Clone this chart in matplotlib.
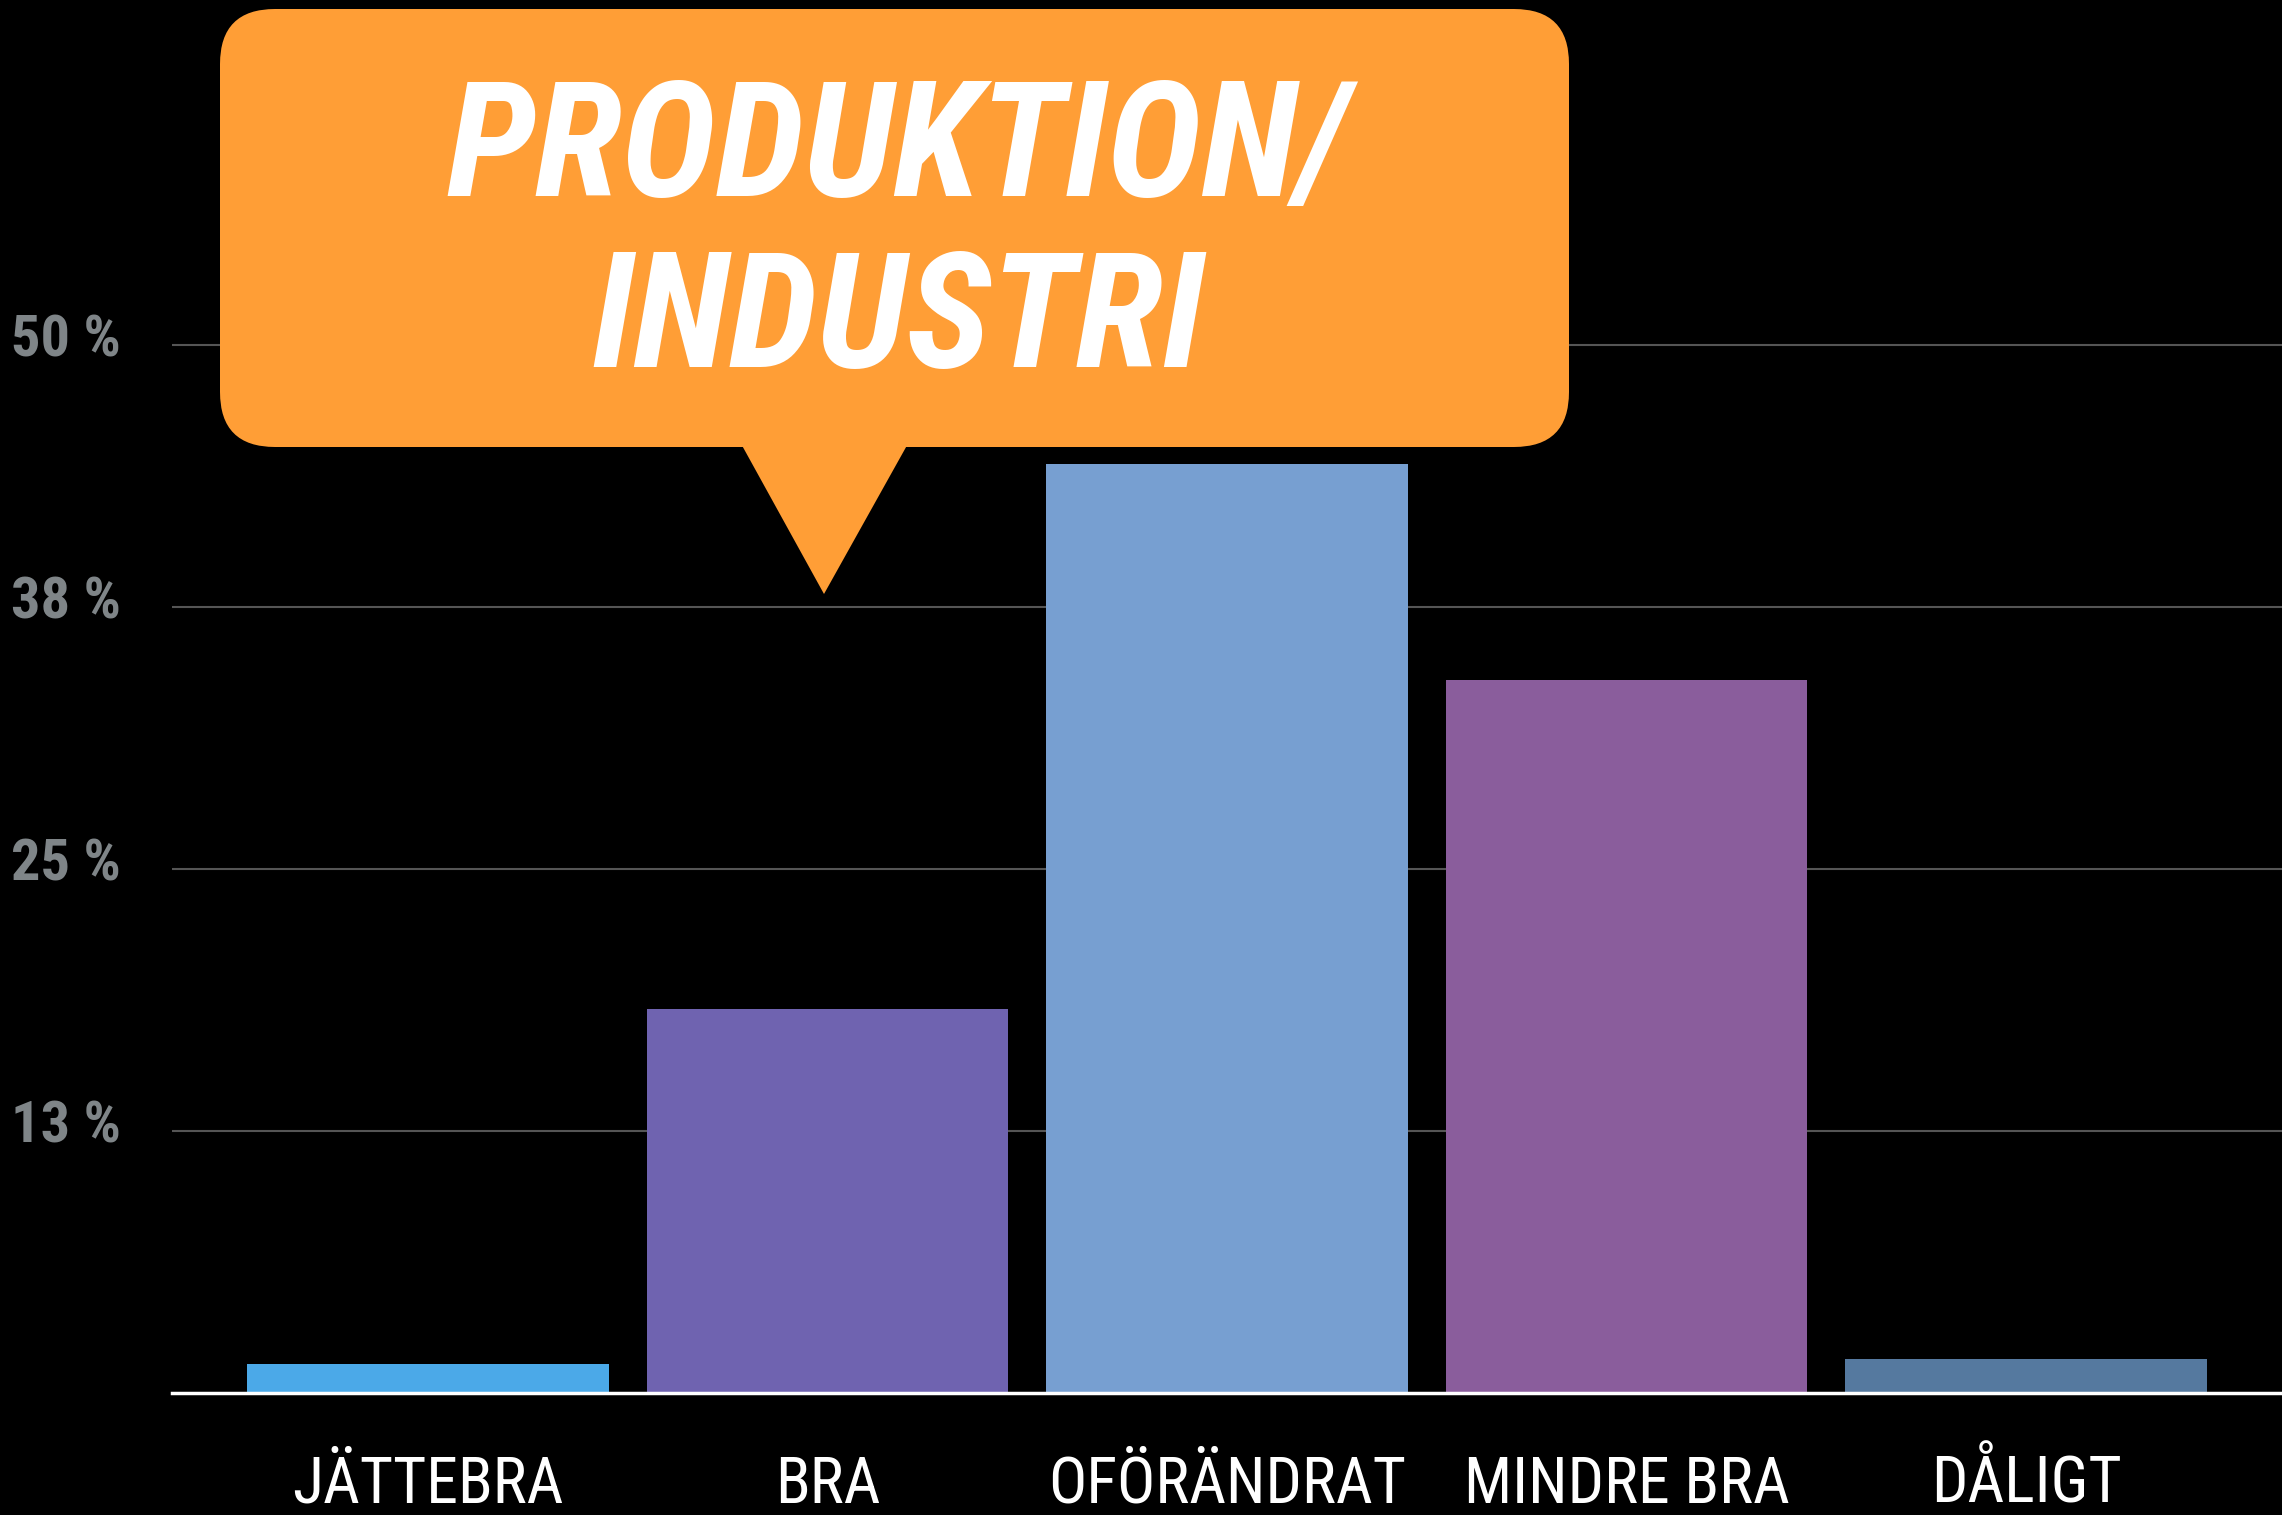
import matplotlib
matplotlib.use('Agg')
import matplotlib.pyplot as plt
import matplotlib.transforms as mtransforms
from matplotlib import font_manager
from matplotlib.patches import FancyBboxPatch, Polygon

# values (percent of answers)
categories = ['JÄTTEBRA', 'BRA', 'OFÖRÄNDRAT', 'MINDRE BRA', 'DÅLIGT']
shares = [1.4, 18.3, 44.3, 34.0, 1.6]
bar_colors = ['#4ba9e8', '#6f63b0', '#779fd1', '#8a5d9c', '#55799f']
y_ticks = [12.5, 25, 37.5, 50]
y_tick_labels = ['13 %', '25 %', '38 %', '50 %']
title_lines = ['PRODUKTION/', 'INDUSTRI']

installed = {f.name for f in font_manager.fontManager.ttflist}


def pick_font(*names):
    for name in names:
        if name in installed:
            return name
    return 'DejaVu Sans'


narrow = pick_font('Liberation Sans Narrow', 'Roboto Condensed', 'DejaVu Sans Condensed', 'Liberation Sans')

W, H = 2282, 1515
base_px = 1393          # pixel row of the zero line
px_per_pct = (1393 - 345) / 50.0

fig = plt.figure(figsize=(W / 100, H / 100), dpi=100, facecolor='black')
ax = fig.add_axes([172 / W, (H - base_px) / H, 1 - 172 / W, base_px / H])
ax.set_facecolor('black')

ax.bar(range(len(categories)), shares, width=0.905, color=bar_colors, zorder=3)
ax.set_xlim(-0.64, len(categories) - 0.36)
ax.set_ylim(0, base_px / px_per_pct)

ax.set_yticks(y_ticks, y_tick_labels)
ax.yaxis.grid(True, color='#555555', linewidth=1.5)
ax.set_axisbelow(True)
ax.tick_params(axis='y', length=0, pad=37, labelcolor='#7f8588', labelsize=42)
lift = mtransforms.ScaledTranslation(0, 10 / 100, fig.dpi_scale_trans)
for lbl in ax.get_yticklabels():
    lbl.set_family(narrow)
    lbl.set_fontweight('bold')
    lbl.set_transform(lbl.get_transform() + lift)

ax.set_xticks(range(len(categories)), categories)
ax.tick_params(axis='x', length=0, pad=79, labelcolor='white', labelsize=46)
for lbl in ax.get_xticklabels():
    lbl.set_family(narrow)
    lbl.set_verticalalignment('baseline')

for side in ['top', 'right', 'left']:
    ax.spines[side].set_visible(False)
ax.spines['bottom'].set_color('white')
ax.spines['bottom'].set_linewidth(2.5)
ax.spines['bottom'].set_zorder(4)

# speech bubble title, drawn on a pixel-scaled overlay
ov = fig.add_axes([0, 0, 1, 1])
ov.set_xlim(0, W)
ov.set_ylim(H, 0)
ov.axis('off')
orange = '#ff9e36'
ov.add_patch(FancyBboxPatch((220, 9), 1349, 438,
                            boxstyle='round,pad=0,rounding_size=55',
                            facecolor=orange, edgecolor='none'))
ov.add_patch(Polygon([(739, 440), (910, 440), (824, 594)], closed=True,
                     facecolor=orange, edgecolor='none'))
for text, baseline in zip(title_lines, [196, 367]):
    ov.text(898, baseline, text, ha='center', va='baseline', color='white',
            fontsize=116, fontweight='bold', fontstyle='italic', family=narrow)

fig.savefig('out.png', dpi=100, facecolor='black')
